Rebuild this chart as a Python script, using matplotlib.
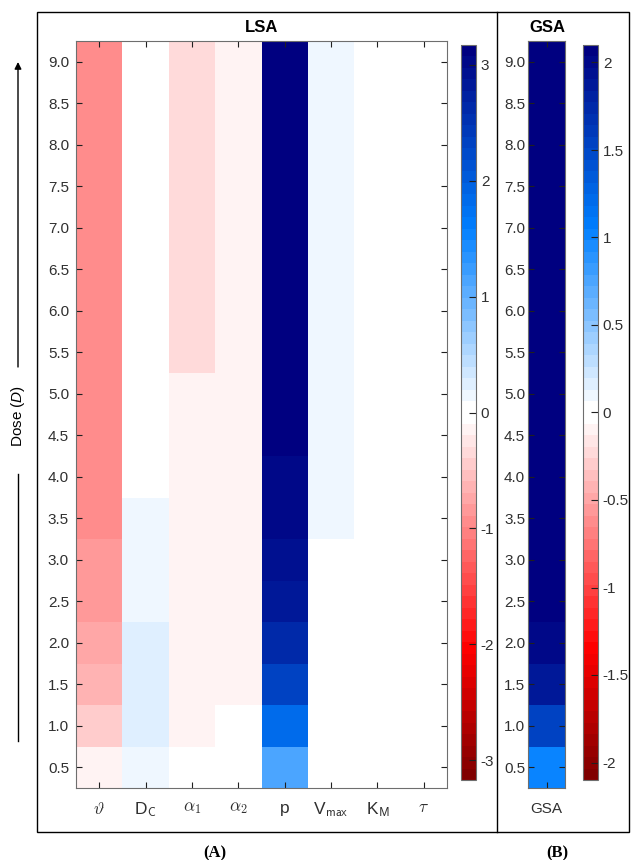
import matplotlib
matplotlib.use('Agg')
import matplotlib.pyplot as plt
import numpy as np
from matplotlib.colors import LinearSegmentedColormap, ListedColormap, Normalize
from matplotlib.patches import Rectangle, FancyArrowPatch
from matplotlib.lines import Line2D

plt.rcParams['font.family'] = ['Liberation Sans', 'DejaVu Sans']
plt.rcParams['mathtext.fontset'] = 'cm'
plt.rcParams['mathtext.it'] = 'Liberation Sans:italic'
plt.rcParams['mathtext.rm'] = 'Liberation Sans'
plt.rcParams['mathtext.sf'] = 'Liberation Sans'
plt.rcParams['axes.unicode_minus'] = False

# doses (rows, bottom to top) and parameters (columns)
doses = [0.5, 1.0, 1.5, 2.0, 2.5, 3.0, 3.5, 4.0, 4.5, 5.0, 5.5, 6.0, 6.5, 7.0, 7.5, 8.0, 8.5, 9.0]
dose_labels = ['%.1f' % d for d in doses]
params = [r'$\vartheta$', r'D$_{\mathsf{C}}$', r'$\alpha_{\mathsf{1}}$', r'$\alpha_{\mathsf{2}}$',
          'p', r'V$_{\mathsf{max}}$', r'K$_{\mathsf{M}}$', r'$\tau$']

# LSA values per parameter, dose 0.5 -> 9.0
theta = [-0.15, -0.44, -0.64, -0.74, -0.84, -0.84, -0.94, -0.94, -0.94, -0.94, -0.94, -0.94,
         -0.94, -0.94, -0.94, -0.94, -0.94, -0.94]
d_c = [0.15, 0.25, 0.25, 0.25, 0.15, 0.15, 0.15, 0, 0, 0, 0, 0, 0, 0, 0, 0, 0, 0]
alpha1 = [0, -0.15, -0.15, -0.15, -0.15, -0.15, -0.15, -0.15, -0.15, -0.15, -0.34, -0.34,
          -0.34, -0.34, -0.34, -0.34, -0.34, -0.34]
alpha2 = [0, 0, -0.15, -0.15, -0.15, -0.15, -0.15, -0.15, -0.15, -0.15, -0.15, -0.15,
          -0.15, -0.15, -0.15, -0.15, -0.15, -0.15]
p = [1.14, 1.83, 2.33, 2.63, 2.82, 2.92, 3.02, 3.02, 3.15, 3.15, 3.15, 3.15, 3.15, 3.15,
     3.15, 3.15, 3.15, 3.15]
v_max = [0, 0, 0, 0, 0, 0, 0.15, 0.15, 0.15, 0.15, 0.15, 0.15, 0.15, 0.15, 0.15, 0.15, 0.15, 0.15]
k_m = [0, 0, 0, 0, 0, 0, 0, 0, 0, 0, 0, 0, 0, 0, 0, 0, 0, 0]
tau = [0, 0, 0, 0, 0, 0, 0, 0, 0, 0, 0, 0, 0, 0, 0, 0, 0, 0]

# GSA values, dose 0.5 -> 9.0
gsa = [1.0, 1.54, 1.87, 2.0, 2.08, 2.08, 2.08, 2.08, 2.08, 2.08, 2.08, 2.08, 2.08, 2.08,
       2.08, 2.08, 2.08, 2.08]

lsa_lim = 3.17
gsa_lim = 2.1
lsa_ticks = [-3, -2, -1, 0, 1, 2, 3]
gsa_ticks = [-2, -1.5, -1, -0.5, 0, 0.5, 1, 1.5, 2]
gsa_ticklabels = ['-2', '-1.5', '-1', '-0.5', '0', '0.5', '1', '1.5', '2']

# 64 level red-white-blue map, two halves both ending in white
lower = LinearSegmentedColormap.from_list('lo', [(0, (0.5, 0, 0)), (11 / 31, (1, 0, 0)), (1, (1, 1, 1))])
upper = LinearSegmentedColormap.from_list('up', [(0, (1, 1, 1)), (0.5, (0, 0.5, 1)), (1, (0, 0, 0.5))])
cols = [lower(i / 31) for i in range(32)] + [upper(i / 31) for i in range(32)]
cmap = ListedColormap(cols)

W, H = 631, 860


def box(x0, y0, x1, y1):
    return [x0 / W, 1 - y1 / H, (x1 - x0) / W, (y1 - y0) / H]


fig = plt.figure(figsize=(6.31, 8.60), dpi=100)
spine_c = '#6e6e6e'
txt_c = '#303030'

lsa = np.column_stack([theta, d_c, alpha1, alpha2, p, v_max, k_m, tau])
ax = fig.add_axes(box(76, 41, 447, 788))
x_edges = np.arange(len(params) + 1) + 0.5
y_edges = np.append(np.array(doses) - 0.25, doses[-1] + 0.25)
m1 = ax.pcolormesh(x_edges, y_edges, lsa, cmap=cmap, norm=Normalize(-lsa_lim, lsa_lim))
ax.set_xticks(np.arange(1, len(params) + 1))
ax.set_xticklabels(params, fontsize=12.5)
ax.set_yticks(doses)
ax.set_yticklabels(dose_labels, fontsize=11)
ax.tick_params(direction='in', top=True, right=True, length=4, color='#202020',
               labelcolor=txt_c, pad=5)
ax.tick_params(axis='x', pad=9)
for s in ax.spines.values():
    s.set_color(spine_c)

cax1 = fig.add_axes(box(461, 45, 476, 780))
cb1 = fig.colorbar(m1, cax=cax1, ticks=lsa_ticks)
cb1.ax.tick_params(direction='in', length=5, color='#202020', labelcolor=txt_c, labelsize=11)
cb1.outline.set_edgecolor(spine_c)

ax2 = fig.add_axes(box(528, 41, 565, 788))
m2 = ax2.pcolormesh([0.5, 1.5], y_edges, np.array(gsa)[:, None], cmap=cmap,
                    norm=Normalize(-gsa_lim, gsa_lim))
ax2.set_xticks([1])
ax2.set_xticklabels(['GSA'], fontsize=11)
ax2.set_yticks(doses)
ax2.set_yticklabels(dose_labels, fontsize=11)
ax2.tick_params(direction='in', top=True, right=True, length=4, color='#202020',
                labelcolor=txt_c, pad=2)
ax2.tick_params(axis='x', pad=10)
for s in ax2.spines.values():
    s.set_color(spine_c)

cax2 = fig.add_axes(box(583, 45, 598, 780))
cb2 = fig.colorbar(m2, cax=cax2, ticks=gsa_ticks)
cb2.ax.set_yticklabels(gsa_ticklabels)
cb2.ax.tick_params(direction='in', length=5, color='#202020', labelcolor=txt_c, labelsize=11)
cb2.outline.set_edgecolor(spine_c)

fig.text(262 / W, 1 - 28 / H, 'LSA', weight='bold', ha='center', va='center', fontsize=12)
fig.text(547 / W, 1 - 28 / H, 'GSA', weight='bold', ha='center', va='center', fontsize=12)
fig.text(215 / W, 1 - 853 / H, '(A)', family='Liberation Serif', weight='bold',
         ha='center', va='center', fontsize=12)
fig.text(557 / W, 1 - 853 / H, '(B)', family='Liberation Serif', weight='bold',
         ha='center', va='center', fontsize=12)

# frames around the panels
fig.add_artist(Rectangle((37 / W, 1 - 832 / H), (629 - 37) / W, (832 - 12) / H,
                         transform=fig.transFigure, fill=False, lw=1, ec='black'))
fig.add_artist(Line2D([497 / W, 497 / W], [1 - 832 / H, 1 - 12 / H], transform=fig.transFigure,
                      lw=1, color='black'))

# dose arrow and label
fig.text(18 / W, 1 - 416 / H, 'Dose ($D$)', rotation=90, ha='center', va='center',
         fontsize=11, math_fontfamily='custom')
fig.add_artist(FancyArrowPatch((18 / W, 1 - 367 / H), (18 / W, 1 - 62 / H),
                               transform=fig.transFigure, arrowstyle='-|>', mutation_scale=10,
                               lw=1, color='black', shrinkA=0, shrinkB=0))
fig.add_artist(Line2D([18 / W, 18 / W], [1 - 741 / H, 1 - 474 / H], transform=fig.transFigure,
                      lw=1, color='black'))

fig.savefig('out.png', dpi=100)
